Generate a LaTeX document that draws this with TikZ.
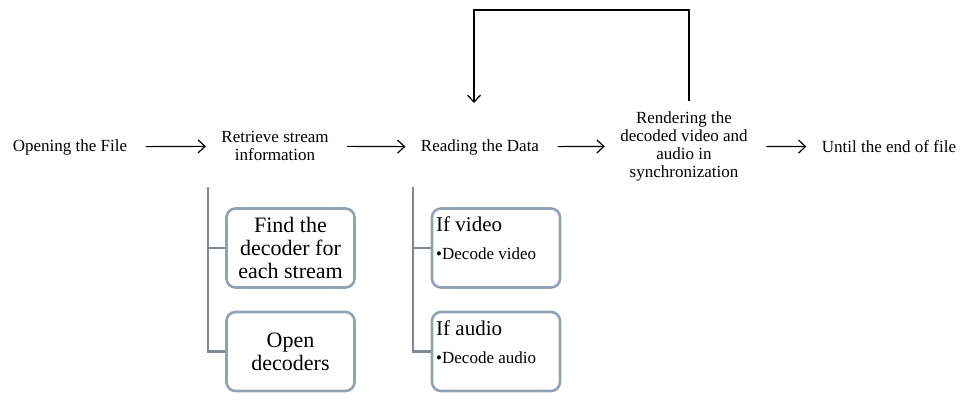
\documentclass[tikz,border=0pt]{standalone}
\usepackage{fontspec}
\setmainfont{Liberation Serif}
\usetikzlibrary{arrows.meta}

\definecolor{boxline}{RGB}{146,162,180}
\definecolor{treeline}{RGB}{128,136,148}

\begin{document}
\begin{tikzpicture}[x=1pt,y=-1pt,>={Straight Barb[length=7pt,width=13pt]},
                    step node/.style={align=center,font=\fontsize{17}{18}\selectfont},
                    flow/.style={->,line width=1.2pt,shorten <=15pt,shorten >=12pt},
                    sub box/.style={draw=boxline,line width=2.6pt,rounded corners=9pt,
                                    minimum width=128pt,minimum height=79pt,align=center,
                                    font=\fontsize{22}{23}\selectfont},
                    head text/.style={anchor=base west,inner sep=0pt,font=\fontsize{21}{22}\selectfont},
                    item text/.style={anchor=base west,inner sep=0pt,font=\fontsize{17}{18}\selectfont},
                    tree/.style={draw=treeline,line width=2.6pt}]
  \useasboundingbox (0,0) rectangle (972,407);

  % main row
  \node[step node] (open)   at (70,147)  {Opening the File};
  \node[step node] (stream) at (275,146) {Retrieve stream\\information};
  \node[step node] (read)   at (480,147) {Reading the Data};
  \node[step node] (render) at (684,146) {Rendering the\\decoded video and\\audio in\\synchronization};
  \node[step node] (until)  at (889,147) {Until the end of file};

  \draw[flow] (open) -- (stream);
  \draw[flow] (stream) -- (read);
  \draw[flow] (read) -- (render);
  \draw[flow] (render) -- (until);

  % loop back
  \coordinate (loop top) at (474,10);
  \coordinate (loop end) at (474,103);
  \draw[->,line width=1.2pt] ([xshift=5pt,yshift=7pt]render.north) |- (loop top) -- (loop end);

  % sub steps of stream
  \node[sub box] (find)    at (290.5,248)   {Find the\\decoder for\\each stream};
  \node[sub box] (decopen) at (290.5,351.5) {Open\\decoders};
  \coordinate (tree a) at (208,187);
  \draw[tree] (tree a) |- (find.west) (tree a) |- (decopen.west);

  % sub steps of read
  \node[sub box] (video) at (496,248)   {};
  \node[sub box] (audio) at (496,351.5) {};
  \node[head text] (video head) at (436,231) {If video};
  \node[item text] (video item) at (436,259) {•Decode video};
  \node[head text] (audio head) at (436,335) {If audio};
  \node[item text] (audio item) at (436,363) {•Decode audio};
  \coordinate (tree b) at (413,187);
  \draw[tree] (tree b) |- (video.west) (tree b) |- (audio.west);
\end{tikzpicture}
\end{document}
